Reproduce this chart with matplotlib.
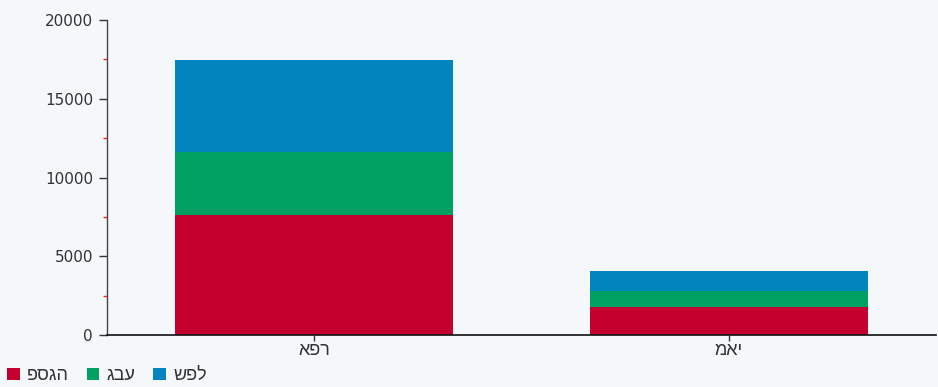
import matplotlib
matplotlib.use("Agg")
import matplotlib.pyplot as plt
from matplotlib.patches import Patch
from matplotlib.ticker import MultipleLocator

categories = ["אפר", "מאי"]
series_names = ["פסגה", "גבע", "שפל"]
peak = [7600, 1800]
shoulder = [4000, 1010]
low = [5850, 1270]
colors = ["#c4002f", "#00a062", "#0085be"]
yticks = [0, 5000, 10000, 15000, 20000]

plt.rcParams['font.family'] = ['DejaVu Sans']
heb_font = ['Liberation Sans', 'DejaVu Sans']

fig = plt.figure(figsize=(9.38, 3.87), dpi=100, facecolor="#f5f8fb")
ax = fig.add_axes([0.114, 0.1344, 0.884, 0.8136])
ax.set_facecolor("none")

x = list(range(len(categories)))
bottom = [0] * len(categories)
for vals, c in zip([peak, shoulder, low], colors):
    ax.bar(x, vals, width=0.67, bottom=bottom, color=c, edgecolor="none")
    bottom = [b + v for b, v in zip(bottom, vals)]

ax.set_xlim(-0.5, 1.5)
ax.set_ylim(0, 20000)
ax.set_yticks(yticks)
ax.set_yticklabels([str(t) for t in yticks])
ax.yaxis.set_minor_locator(MultipleLocator(2500))
ax.set_xticks(x)
ax.set_xticklabels(categories, family=heb_font, fontsize=13)

for side in ["top", "right"]:
    ax.spines[side].set_visible(False)
ax.spines["left"].set_color("#444444")
ax.spines["left"].set_linewidth(1.0)
ax.spines["bottom"].set_color("#111111")
ax.spines["bottom"].set_linewidth(1.2)

ax.tick_params(axis="y", which="major", length=6, width=1, color="#333333",
               labelsize=11, labelcolor="#333333", pad=4)
ax.tick_params(axis="y", which="minor", length=3, width=1, color="#ff2020")
ax.tick_params(axis="x", which="major", length=4, width=1, color="#333333",
               labelcolor="#333333", pad=1)

handles = [Patch(facecolor=c, edgecolor="none") for c in colors]
fig.legend(handles, series_names, loc="lower left",
           bbox_to_anchor=(-0.01, -0.035), ncol=3, frameon=False,
           prop={'family': heb_font, 'size': 13}, handlelength=0.7, handleheight=0.7,
           handletextpad=0.4, columnspacing=1.0, labelcolor="#333333")

fig.savefig("out.png", dpi=100, facecolor=fig.get_facecolor())
